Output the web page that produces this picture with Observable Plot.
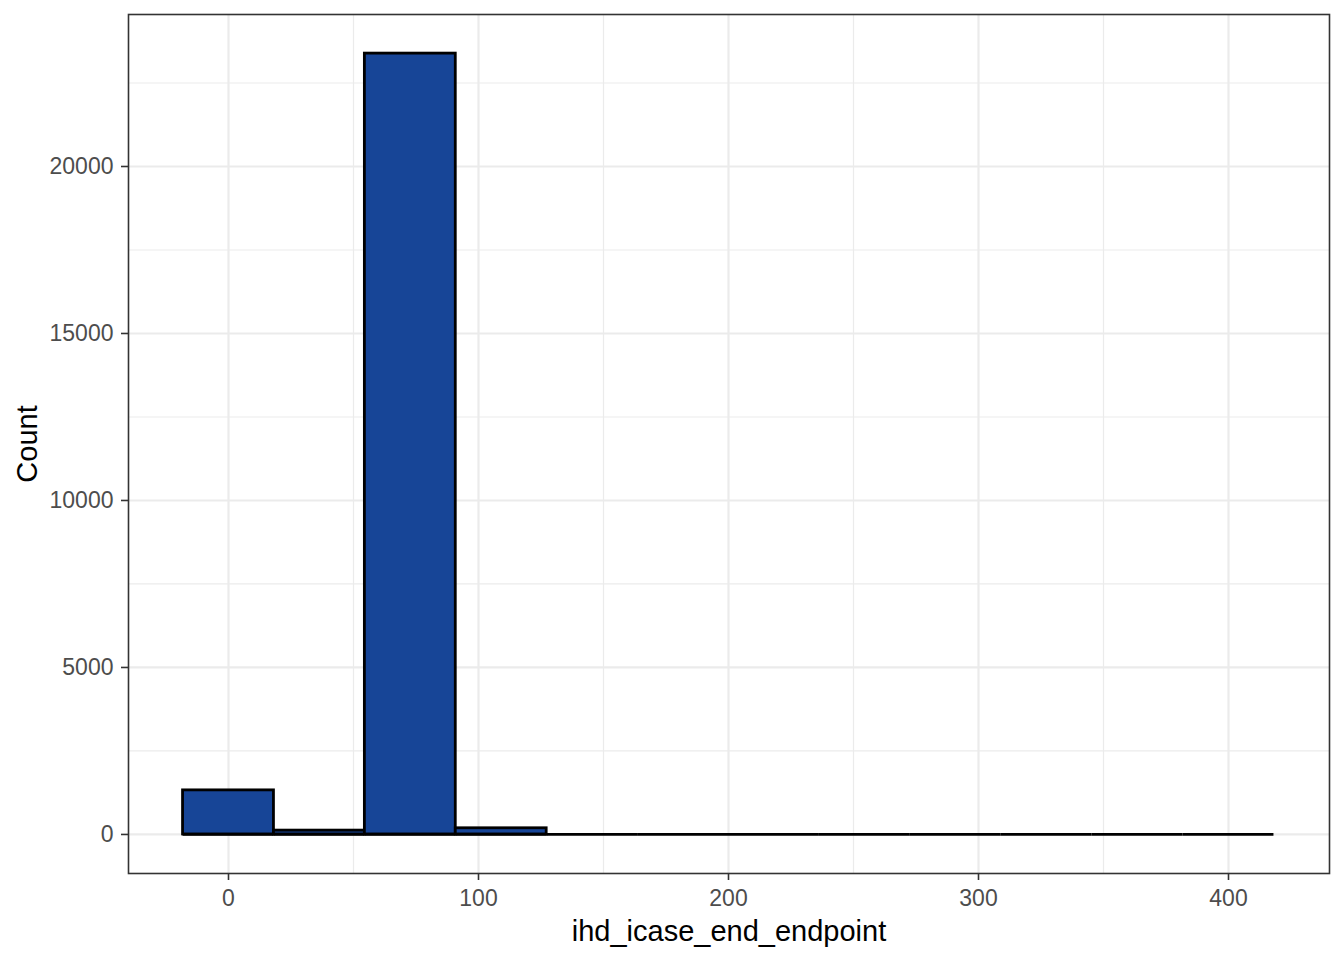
<!DOCTYPE html>
<html>
<head>
<meta charset="utf-8">
<script src="https://cdn.jsdelivr.net/npm/d3@7"></script>
<script src="https://cdn.jsdelivr.net/npm/@observablehq/plot@0.6"></script>
<style>
  html, body { margin: 0; padding: 0; background: #fff; }
  svg { display: block; }
</style>
</head>
<body>
<div id="chart"></div>
<script>
// Histogram bins (edges) and counts
const binStart = [-18.18, 18.18, 54.55, 90.91, 127.27, 163.64, 200.0, 236.36, 272.73, 309.09, 345.45, 381.82];
const binEnd   = [18.18, 54.55, 90.91, 127.27, 163.64, 200.0, 236.36, 272.73, 309.09, 345.45, 381.82, 418.18];
const counts   = [1320, 115, 23380, 185, 0, 0, 0, 0, 0, 0, 0, 0];

const xTicks = [0, 100, 200, 300, 400];
const xMinor = [50, 150, 250, 350];
const yTicks = [0, 5000, 10000, 15000, 20000];
const yMinor = [2500, 7500, 12500, 17500, 22500];

const xLabel = "ihd_icase_end_endpoint";
const yLabel = "Count";

const bins = binStart.map((s, i) => ({x1: s, x2: binEnd[i], count: counts[i]}));

const font = "'Liberation Sans', Arial, Helvetica, sans-serif";

const chart = Plot.plot({
  width: 1344,
  height: 960,
  marginLeft: 128,
  marginRight: 15,
  marginTop: 14,
  marginBottom: 87,
  style: {fontFamily: font, background: "#fff"},
  x: {domain: [-40, 440.4]},
  y: {domain: [-1169, 24551]},
  marks: [
    Plot.ruleX(xMinor, {stroke: "#EBEBEB", strokeWidth: 1.2}),
    Plot.ruleY(yMinor, {stroke: "#EBEBEB", strokeWidth: 1.2}),
    Plot.ruleX(xTicks, {stroke: "#EBEBEB", strokeWidth: 2.2}),
    Plot.ruleY(yTicks, {stroke: "#EBEBEB", strokeWidth: 2.2}),
    Plot.ruleY(bins, {x1: "x1", x2: "x2", y: 0, stroke: "#000", strokeWidth: 2.8}),
    Plot.rectY(bins.filter(d => d.count > 0), {x1: "x1", x2: "x2", y1: 0, y2: "count", fill: "#174597", stroke: "#000", strokeWidth: 2.8}),
    Plot.frame({stroke: "#333333", strokeWidth: 1.6}),
    Plot.axisX({ticks: xTicks, tickSize: 7, tickPadding: 9, fontSize: 23, stroke: "#333333", strokeWidth: 1.6, color: "#4D4D4D", label: null, tickFormat: d => String(d)}),
    Plot.axisY({ticks: yTicks, tickSize: 7, tickPadding: 8, fontSize: 23, stroke: "#333333", strokeWidth: 1.6, color: "#4D4D4D", label: null, tickFormat: d => String(d)}),
    Plot.text([xLabel], {frameAnchor: "bottom", dy: 58, fontSize: 29, fill: "#000", textAnchor: "middle", lineAnchor: "middle", text: d => d}),
    Plot.text([yLabel], {frameAnchor: "left", dx: -101, rotate: -90, fontSize: 29, fill: "#000", textAnchor: "middle", lineAnchor: "middle", text: d => d})
  ]
});
document.getElementById("chart").appendChild(chart);
</script>
</body>
</html>
